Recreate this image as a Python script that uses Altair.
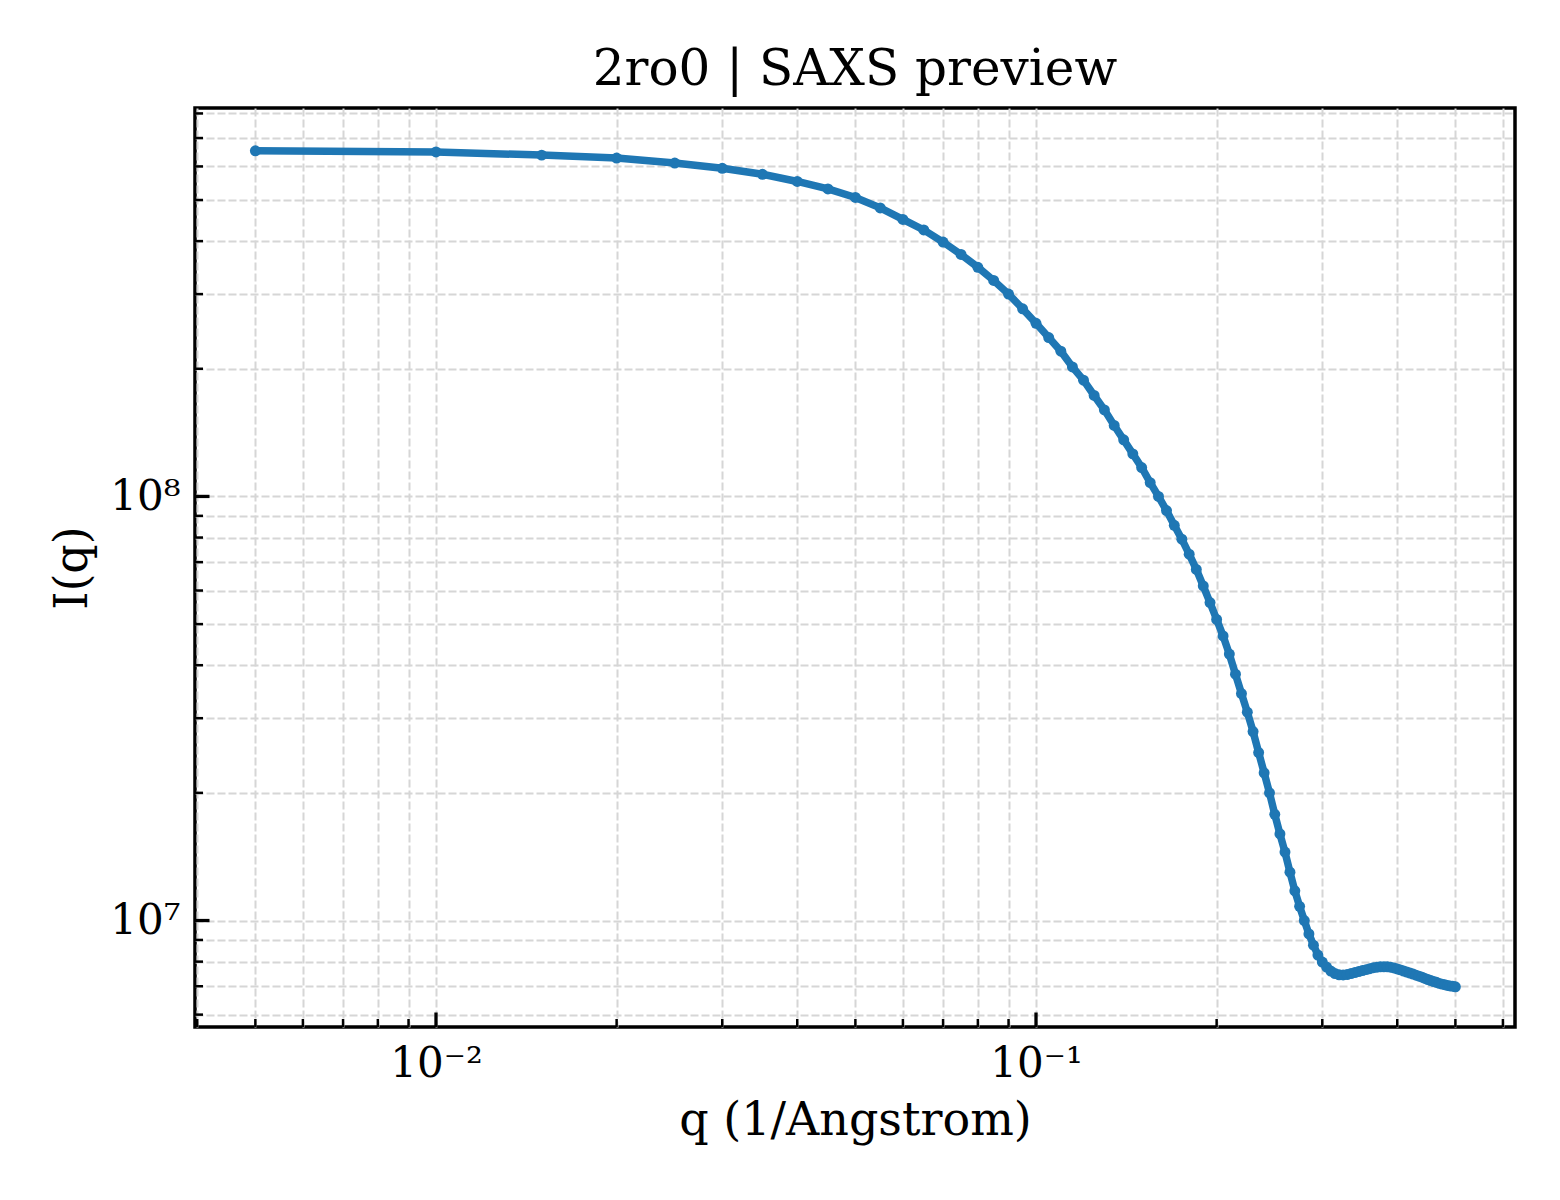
import altair as alt
import pandas as pd

FONT = "DejaVu Serif"
BLUE = "#1f77b4"
GRID = "#d6d6d6"

W, H = 1320, 919

# scattering vector q (1/Angstrom)
Q = [
    0.005, 0.010, 0.015, 0.020, 0.025, 0.030, 0.035, 0.040, 0.045, 0.050,
    0.055, 0.060, 0.065, 0.070, 0.075, 0.080, 0.085, 0.090, 0.095, 0.100,
    0.105, 0.110, 0.115, 0.120, 0.125, 0.130, 0.135, 0.140, 0.145, 0.150,
    0.155, 0.160, 0.165, 0.170, 0.175, 0.180, 0.185, 0.190, 0.195, 0.200,
    0.205, 0.210, 0.215, 0.220, 0.225, 0.230, 0.235, 0.240, 0.245, 0.250,
    0.255, 0.260, 0.265, 0.270, 0.275, 0.280, 0.285, 0.290, 0.295, 0.300,
    0.305, 0.310, 0.315, 0.320, 0.325, 0.330, 0.335, 0.340, 0.345, 0.350,
    0.355, 0.360, 0.365, 0.370, 0.375, 0.380, 0.385, 0.390, 0.395, 0.400,
    0.405, 0.410, 0.415, 0.420, 0.425, 0.430, 0.435, 0.440, 0.445, 0.450,
    0.455, 0.460, 0.465, 0.470, 0.475, 0.480, 0.485, 0.490, 0.495, 0.500,
]

# intensity I(q)
I = [
    6.53e8, 6.49e8, 6.38e8, 6.28e8, 6.11e8, 5.94e8, 5.75e8, 5.53e8, 5.31e8, 5.07e8,
    4.79e8, 4.50e8, 4.25e8, 3.98e8, 3.72e8, 3.47e8, 3.23e8, 3.00e8, 2.77e8, 2.56e8,
    2.37e8, 2.20e8, 2.02e8, 1.88e8, 1.73e8, 1.60e8, 1.47e8, 1.36e8, 1.26e8, 1.17e8,
    1.078e8, 1.00e8, 9.26e7, 8.55e7, 7.93e7, 7.31e7, 6.73e7, 6.15e7, 5.62e7, 5.13e7,
    4.69e7, 4.25e7, 3.81e7, 3.43e7, 3.10e7, 2.79e7, 2.49e7, 2.23e7, 2.00e7, 1.78e7,
    1.60e7, 1.45e7, 1.30e7, 1.175e7, 1.08e7, 1.00e7, 9.30e6, 8.75e6, 8.29e6, 7.98e6,
    7.77e6, 7.60e6, 7.50e6, 7.45e6, 7.44e6, 7.46e6, 7.50e6, 7.54e6, 7.58e6, 7.62e6,
    7.66e6, 7.70e6, 7.74e6, 7.76e6, 7.78e6, 7.78e6, 7.78e6, 7.76e6, 7.73e6, 7.69e6,
    7.65e6, 7.60e6, 7.56e6, 7.52e6, 7.48e6, 7.43e6, 7.39e6, 7.35e6, 7.30e6, 7.26e6,
    7.22e6, 7.18e6, 7.15e6, 7.11e6, 7.08e6, 7.06e6, 7.03e6, 7.01e6, 7.00e6, 6.98e6,
]

# tick positions
X_MAJOR = [0.01, 0.1]
X_MINOR = [0.004, 0.005, 0.006, 0.007, 0.008, 0.009,
           0.02, 0.03, 0.04, 0.05, 0.06, 0.07, 0.08, 0.09,
           0.2, 0.3, 0.4, 0.5, 0.6]
Y_MAJOR = [1e7, 1e8]
Y_MINOR = [6e6, 7e6, 8e6, 9e6,
           2e7, 3e7, 4e7, 5e7, 6e7, 7e7, 8e7, 9e7,
           2e8, 3e8, 4e8, 5e8, 6e8, 7e8, 8e8]

df = pd.DataFrame({"q": Q, "I": I})

xscale = alt.Scale(type="log", domain=[0.003966, 0.6285], nice=False)
yscale = alt.Scale(type="log", domain=[5.61e6, 8.24e8], nice=False)

_AXIS = dict(
    grid=True,
    gridColor=GRID,
    gridDash=[8, 3],
    gridWidth=2,
    ticks=False,
    domain=False,
    labelFont=FONT,
    labelFontSize=42,
    labelColor="black",
    labelOverlap=False,
    labelFlush=False,
    titleFont=FONT,
    titleFontSize=46,
    titleFontWeight="normal",
    titleColor="black",
)

x_axis = alt.Axis(
    values=sorted(X_MAJOR + X_MINOR),
    labelExpr="datum.value == 0.01 ? '10⁻²' : datum.value == 0.1 ? '10⁻¹' : ''",
    labelPadding=16,
    titlePadding=14,
    title="q (1/Angstrom)",
    **_AXIS,
)
y_axis = alt.Axis(
    values=sorted(Y_MAJOR + Y_MINOR),
    labelExpr="datum.value == 1e7 ? '10⁷' : datum.value == 1e8 ? '10⁸' : ''",
    labelPadding=15,
    titlePadding=13,
    title="I(q)",
    **_AXIS,
)

base = alt.Chart(df).encode(
    x=alt.X("q:Q", scale=xscale, axis=x_axis),
    y=alt.Y("I:Q", scale=yscale, axis=y_axis),
)
line = base.mark_line(color=BLUE, strokeWidth=7.5)
points = base.mark_point(filled=True, size=120, color=BLUE, opacity=1)


def y_ticks(values, length, width):
    return (
        alt.Chart(pd.DataFrame({"I": values}))
        .mark_rule(color="black", strokeWidth=width)
        .encode(
            y=alt.Y("I:Q", scale=yscale, axis=y_axis),
            x=alt.value(0),
            x2=alt.value(length),
        )
    )


def x_ticks(values, length, width):
    return (
        alt.Chart(pd.DataFrame({"q": values}))
        .mark_rule(color="black", strokeWidth=width)
        .encode(
            x=alt.X("q:Q", scale=xscale, axis=x_axis),
            y=alt.value(H),
            y2=alt.value(H - length),
        )
    )


chart = (
    alt.layer(
        line,
        points,
        y_ticks(Y_MAJOR, 14.5, 3.3),
        y_ticks(Y_MINOR, 8, 2.5),
        x_ticks(X_MAJOR, 14.5, 3.3),
        x_ticks(X_MINOR, 8, 2.5),
    )
    .properties(
        width=W,
        height=H,
        autosize=alt.AutoSizeParams(type="none"),
        padding={"left": 187, "top": 100, "right": 37, "bottom": 165},
        title=alt.Title(
            "2ro0 | SAXS preview",
            font=FONT,
            fontSize=50,
            fontWeight="normal",
            color="black",
            offset=-3,
        ),
    )
    .configure_view(stroke="black", strokeWidth=3.5)
)

chart.save("out.html", embed_options={"renderer": "svg", "actions": False})
